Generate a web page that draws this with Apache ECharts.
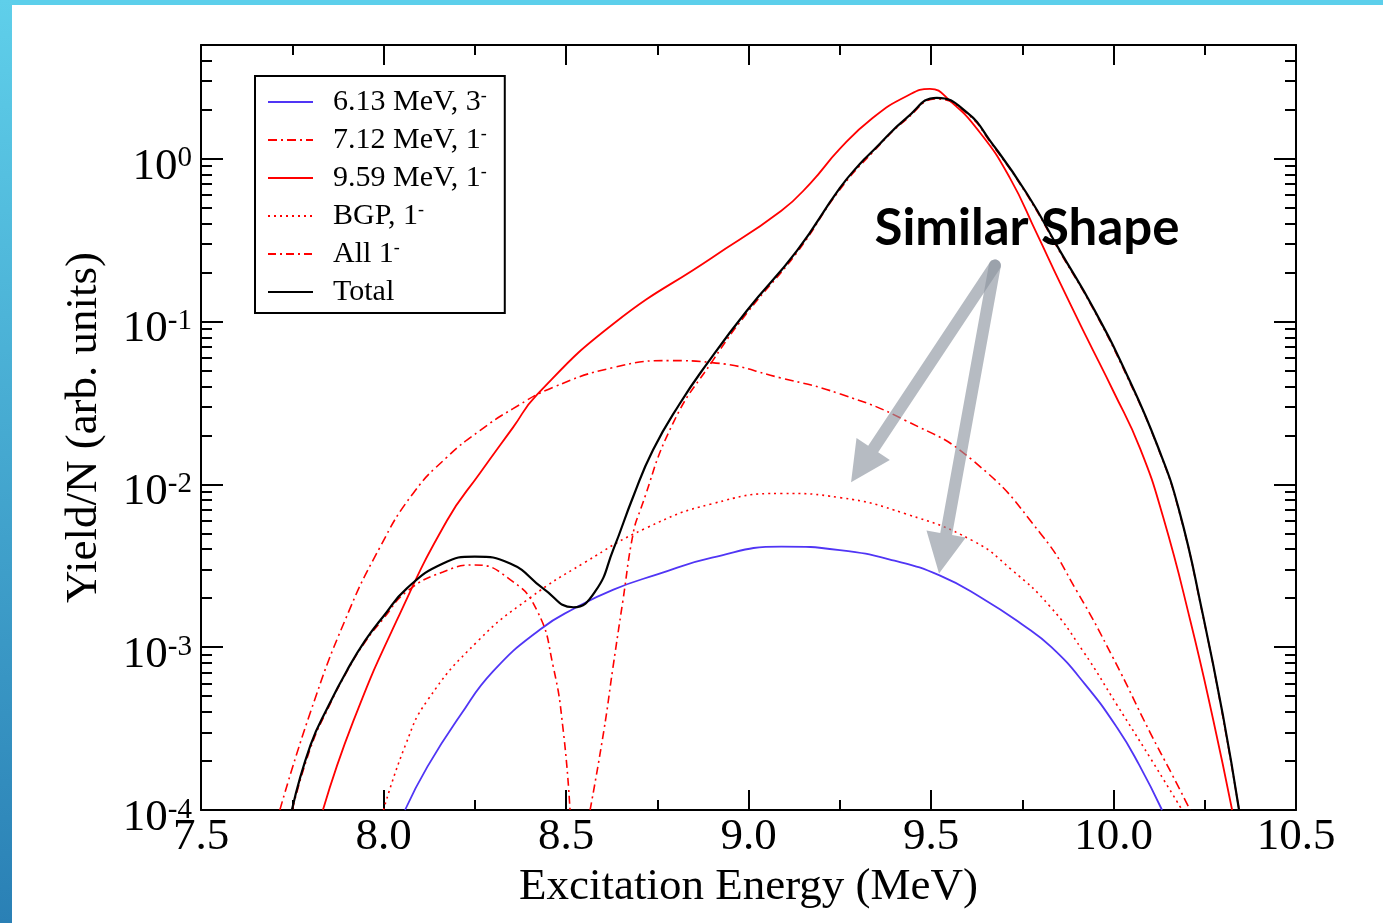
<!DOCTYPE html>
<html>
<head>
<meta charset="utf-8">
<title>Yield vs excitation energy</title>
<script src="https://cdn.jsdelivr.net/npm/echarts@6/dist/echarts.min.js"></script>
<style>
  html, body { margin: 0; padding: 0; background: #ffffff; }
  #chart { width: 1383px; height: 923px; }
</style>
</head>
<body>
<div id="chart"></div>
<script>
// [excitation energy (MeV), yield/N] for each contribution
const state613 = [
  [8.059, 1.0e-4], [8.12, 1.84e-4], [8.21, 3.8e-4], [8.30, 7.1e-4], [8.43, 1.29e-3],
  [8.525, 1.74e-3], [8.63, 2.26e-3], [8.75, 2.8e-3], [8.90, 3.55e-3], [9.09, 4.15e-3],
  [9.25, 3.95e-3], [9.40, 3.4e-3], [9.525, 2.75e-3], [9.64, 2.0e-3], [9.75, 1.38e-3],
  [9.83, 1.0e-3], [9.92, 6.0e-4], [10.01, 3.2e-4], [10.07, 1.9e-4], [10.133, 1.0e-4]
];
const state712 = [
  [7.716, 1.0e-4], [7.80, 4.0e-4], [7.895, 1.47e-3], [7.99, 4.1e-3], [8.081, 8.8e-3],
  [8.174, 1.47e-2], [8.264, 2.14e-2], [8.355, 2.92e-2], [8.464, 3.94e-2], [8.63, 5.22e-2],
  [8.785, 5.76e-2], [8.90, 5.6e-2], [9.09, 4.5e-2], [9.25, 3.6e-2], [9.43, 2.47e-2],
  [9.615, 1.4e-2], [9.80, 5.0e-3], [9.90, 2.2e-3], [10.0, 8.5e-4], [10.1, 3.0e-4],
  [10.16, 1.66e-4], [10.21, 1.0e-4]
];
const state959 = [
  [7.834, 1.0e-4], [7.917, 3.5e-4], [8.037, 1.47e-3], [8.174, 6.0e-3], [8.264, 1.17e-2],
  [8.355, 2.24e-2], [8.42, 3.55e-2], [8.63, 9.7e-2], [8.90, 0.247], [9.09, 0.48],
  [9.17, 0.71], [9.25, 1.15], [9.34, 1.78], [9.434, 2.43], [9.497, 2.69],
  [9.552, 2.27], [9.634, 1.45], [9.716, 0.764], [9.79, 0.347], [9.853, 0.174],
  [9.927, 0.0794], [10.0, 0.0372], [10.073, 0.0166], [10.136, 6.3e-3], [10.21, 1.47e-3],
  [10.273, 3.6e-4], [10.325, 1.0e-4]
];
const bgp = [
  [8.0, 1.0e-4], [8.06, 2.5e-4], [8.12, 4.7e-4], [8.26, 1.1e-3], [8.40, 2.0e-3],
  [8.55, 3.3e-3], [8.72, 5.4e-3], [8.90, 7.6e-3], [9.09, 8.8e-3], [9.25, 8.3e-3],
  [9.43, 6.6e-3], [9.615, 4.5e-3], [9.72, 3.0e-3], [9.826, 1.78e-3], [9.916, 9.5e-4],
  [10.01, 4.4e-4], [10.1, 2.1e-4], [10.188, 1.0e-4]
];
// the interference minimum leaves a gap (null) between the two branches
const all1 = [
  [7.75, 1.0e-4], [7.80, 2.4e-4], [7.85, 4.3e-4], [7.90, 7.1e-4], [7.95, 1.08e-3],
  [8.00, 1.5e-3], [8.064, 2.2e-3], [8.163, 2.9e-3], [8.25, 3.2e-3], [8.347, 2.6e-3],
  [8.42, 1.69e-3], [8.465, 7.6e-4], [8.493, 3.0e-4], [8.511, 1.0e-4],
  [8.54, null],
  [8.566, 1.0e-4], [8.603, 3.0e-4], [8.629, 7.6e-4], [8.656, 1.94e-3], [8.684, 5.0e-3],
  [8.703, 6.9e-3], [8.793, 2.37e-2], [8.903, 5.8e-2], [8.996, 0.113], [9.133, 0.266],
  [9.25, 0.645], [9.341, 1.1], [9.434, 1.76], [9.516, 2.33], [9.599, 1.89],
  [9.662, 1.27], [9.763, 0.6], [9.853, 0.268], [9.944, 0.12], [10.037, 0.046],
  [10.12, 0.0172], [10.18, 6.8e-3], [10.245, 1.56e-3], [10.30, 3.7e-4], [10.344, 1.0e-4]
];
const total = [
  [7.749, 1.0e-4], [7.80, 2.5e-4], [7.85, 4.4e-4], [7.90, 7.2e-4], [7.95, 1.1e-3],
  [8.00, 1.55e-3], [8.064, 2.3e-3], [8.163, 3.27e-3], [8.25, 3.6e-3], [8.347, 3.27e-3],
  [8.437, 2.3e-3], [8.52, 1.76e-3], [8.58, 2.2e-3], [8.63, 4.0e-3], [8.684, 8.4e-3],
  [8.738, 1.62e-2], [8.812, 3.14e-2], [8.886, 5.5e-2], [8.996, 0.117], [9.133, 0.273],
  [9.25, 0.66], [9.305, 0.93], [9.341, 1.12], [9.434, 1.79], [9.516, 2.37],
  [9.599, 1.92], [9.662, 1.29], [9.763, 0.61], [9.853, 0.273], [9.944, 0.122],
  [10.037, 0.047], [10.12, 0.0174], [10.18, 6.9e-3], [10.245, 1.58e-3], [10.30, 3.8e-4],
  [10.344, 1.0e-4]
];

const seriesNames = ['6.13 MeV, 3-', '7.12 MeV, 1-', '9.59 MeV, 1-', 'BGP, 1-', 'All 1-', 'Total'];

// axis ticks
const xRange = [7.5, 10.5];
const xStep = 0.5;
const yRange = [1e-4, 5];
const yDecades = [1e-4, 1e-3, 1e-2, 1e-1, 1];
const yMinorSteps = [2, 3, 4, 5, 6, 7, 8, 9];
const yMinor = [];
yDecades.forEach(d => yMinorSteps.forEach(m => {
  const v = d * m;
  if (v < yRange[1]) yMinor.push(v);
}));

const SERIF = 'Liberation Serif';
const RED = '#ff0000';

const curves = [
  { data: state613, color: '#5035f5', dash: 'solid', width: 1.8 },
  { data: state712, color: RED, dash: [9, 4, 2, 4], width: 1.6 },
  { data: state959, color: RED, dash: 'solid', width: 1.8 },
  { data: bgp, color: RED, dash: [2, 4], width: 1.6 },
  { data: all1, color: RED, dash: [8, 4, 2, 4], width: 1.6 },
  { data: total, color: '#000000', dash: 'solid', width: 2.2 }
];

const chart = echarts.init(document.getElementById('chart'), null, { renderer: 'canvas' });

const frameLine = { show: true, onZero: false, lineStyle: { color: '#000', width: 2 } };
const tickStyle = { color: '#000', width: 2 };

function xAxisDef(position, labels) {
  return {
    type: 'value', position, min: xRange[0], max: xRange[1], interval: xStep,
    axisLine: frameLine,
    axisTick: { show: true, inside: true, length: 20, lineStyle: tickStyle },
    minorTick: { show: true, splitNumber: 2, length: 10, lineStyle: tickStyle },
    splitLine: { show: false },
    minorSplitLine: { show: false },
    axisLabel: labels ? {
      show: true, margin: 5, color: '#000', fontFamily: SERIF, fontSize: 45, lineHeight: 45,
      formatter: v => v.toFixed(1)
    } : { show: false },
    name: labels ? 'Excitation Energy (MeV)' : '',
    nameLocation: 'middle', nameGap: 52,
    nameTextStyle: { fontFamily: SERIF, fontSize: 45, color: '#000', lineHeight: 45 }
  };
}

function yAxisDef(position, values, tickLen, showLine, labels) {
  return {
    type: 'log', logBase: 10, position, min: yRange[0], max: yRange[1],
    axisLine: showLine ? frameLine : { show: false },
    axisTick: { show: true, inside: true, length: tickLen, lineStyle: tickStyle, customValues: values },
    minorTick: { show: false },
    splitLine: { show: false },
    axisLabel: labels ? {
      show: true, margin: 9, color: '#000', padding: [16, 0, 0, 0],
      customValues: values,
      formatter: v => '{b|10}{s|' + Math.round(Math.log10(v)) + '}',
      rich: {
        b: { fontFamily: SERIF, fontSize: 45, lineHeight: 45, verticalAlign: 'bottom', color: '#000' },
        s: { fontFamily: SERIF, fontSize: 29, lineHeight: 10, verticalAlign: 'top', color: '#000' }
      }
    } : { show: false },
    name: labels ? 'Yield/N (arb. units)' : '',
    nameLocation: 'middle', nameGap: 94,
    nameTextStyle: { fontFamily: SERIF, fontSize: 45, color: '#000', lineHeight: 45 }
  };
}

const option = {
  animation: false,
  backgroundColor: '#ffffff',
  grid: { left: 201, right: 87, top: 45, bottom: 113, containLabel: false },
  xAxis: [xAxisDef('bottom', true), xAxisDef('top', false)],
  yAxis: [
    yAxisDef('left', yDecades, 22, true, true),
    yAxisDef('left', yMinor, 11, false, false),
    yAxisDef('right', yDecades, 22, true, false),
    yAxisDef('right', yMinor, 11, false, false)
  ],
  legend: {
    orient: 'vertical', left: 255, top: 76,
    backgroundColor: '#ffffff', borderColor: '#000', borderWidth: 2, borderRadius: 0,
    padding: [11, 18, 6, 12],
    itemWidth: 45, itemHeight: 14, itemGap: 8,
    itemStyle: { opacity: 0 },
    selectedMode: false,
    data: seriesNames,
    formatter: name => {
      const m = name.match(/^(.*)-$/);
      return m ? '{b|' + m[1] + '}{s|-}' : '{b|' + name + '}';
    },
    textStyle: {
      color: '#000', fontFamily: SERIF, fontSize: 30, lineHeight: 30, padding: [0, 0, 0, 15],
      rich: {
        b: { fontFamily: SERIF, fontSize: 30, lineHeight: 30, verticalAlign: 'bottom', color: '#000' },
        s: { fontFamily: SERIF, fontSize: 18, lineHeight: 8, verticalAlign: 'top', color: '#000' }
      }
    }
  },
  series: curves.map((c, i) => ({
    name: seriesNames[i],
    type: 'line',
    data: c.data,
    xAxisIndex: 0, yAxisIndex: 0,
    symbol: 'none', showSymbol: false,
    smooth: 0.5,
    connectNulls: false,
    clip: true,
    color: c.color,
    lineStyle: { color: c.color, width: c.width, type: c.dash },
    itemStyle: { color: c.color },
    emphasis: { disabled: true },
    z: 2 + i
  }))
};

chart.setOption(option);

// Annotation anchored in data coordinates: label plus two arrows
const noteAnchor = [9.763, 0.372];
const arrowStart = [9.675, 0.221];
const arrowTips = [[9.281, 0.0103], [9.522, 2.84e-3]];
const ARROW_FILL = 'rgba(139,147,158,0.63)';

const toPx = p => chart.convertToPixel({ xAxisIndex: 0, yAxisIndex: 0 }, p);

// outline of an arrow with a rounded tail, as a single polygon
function arrowOutline(from, to) {
  const dx = to[0] - from[0], dy = to[1] - from[1];
  const len = Math.hypot(dx, dy);
  const ux = dx / len, uy = dy / len;
  const nx = -uy, ny = ux;
  const w = 6, headLen = 40, headHalf = 20;
  const bx = to[0] - ux * headLen, by = to[1] - uy * headLen;
  const pts = [];
  for (let k = 0; k <= 12; k++) {
    const a = Math.PI / 2 + Math.PI * k / 12;
    pts.push([
      from[0] + w * (Math.cos(a) * ux + Math.sin(a) * nx),
      from[1] + w * (Math.cos(a) * uy + Math.sin(a) * ny)
    ]);
  }
  pts.push([bx - nx * w, by - ny * w]);
  pts.push([bx - nx * headHalf, by - ny * headHalf]);
  pts.push([to[0], to[1]]);
  pts.push([bx + nx * headHalf, by + ny * headHalf]);
  pts.push([bx + nx * w, by + ny * w]);
  return pts;
}

const start = toPx(arrowStart);
const label = toPx(noteAnchor);
const graphics = [
  {
    type: 'rect', z: 0, silent: true,
    shape: { x: 0, y: 0, width: 1383, height: 5 },
    style: { fill: '#5ccfeb' }
  },
  {
    type: 'rect', z: 0, silent: true,
    shape: { x: 0, y: 0, width: 12, height: 923 },
    style: {
      fill: {
        type: 'linear', x: 0, y: 0, x2: 0, y2: 1,
        colorStops: [
          { offset: 0, color: '#5fcfea' },
          { offset: 1, color: '#2a80b5' }
        ]
      }
    }
  }
];
arrowTips.forEach(t => {
  graphics.push({
    type: 'polygon', z: 100, silent: true,
    shape: { points: arrowOutline(start, toPx(t)) },
    style: { fill: ARROW_FILL }
  });
});
graphics.push({
  type: 'text', z: 101, silent: true,
  x: label[0], y: label[1],
  style: {
    text: 'Similar Shape',
    fill: '#000',
    font: 'bold 51px Lato',
    align: 'center', verticalAlign: 'middle',
    textAlign: 'center', textVerticalAlign: 'middle'
  }
});

chart.setOption({ graphic: graphics });
</script>
</body>
</html>
